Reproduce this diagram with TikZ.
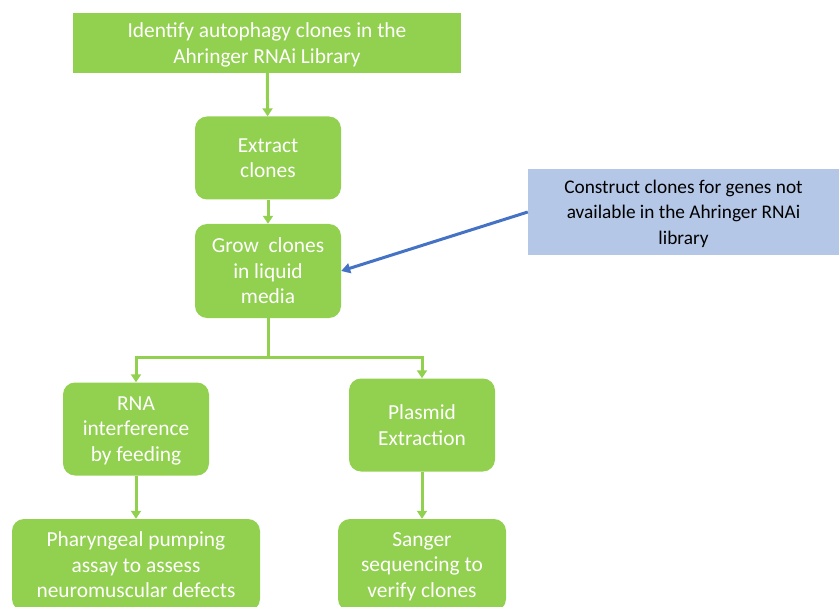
\documentclass[tikz,border=0pt]{standalone}
\usepackage{fontspec}
\setmainfont{Carlito}
\usetikzlibrary{arrows.meta,positioning}
\definecolor{leaf}{HTML}{92D050}
\definecolor{sky}{HTML}{B4C7E7}
\definecolor{ink}{HTML}{4472C4}

\begin{document}
\begin{tikzpicture}
  [x=1pt,y=-1pt,
   every node/.style={align=center,inner sep=0pt,text depth=0pt},
   greenbox/.style={fill=leaf,text=white,rounded corners=12pt,font=\fontsize{21.4}{25.5}\selectfont},
   bluebox/.style={fill=sky,text=black,font=\fontsize{19.3}{25.5}\selectfont},
   flow/.style={draw=leaf,line width=3pt,-{Triangle[width=10pt,length=8pt]}},
   feed/.style={draw=ink,line width=3pt,-{Triangle[width=10pt,length=9pt]}}]
  \useasboundingbox (0,0) rectangle (839,607);

  \node[greenbox,rounded corners=0pt,minimum width=388pt,minimum height=60pt] (identify) at (267,43)
    {Identify autophagy clones in the\\Ahringer RNAi Library};
  \node[greenbox,minimum width=146pt,minimum height=83pt] (extract) at (268,158) {Extract\\clones};
  \node[greenbox,minimum width=146pt,minimum height=94pt] (grow) at (268,271) {Grow~ clones\\in liquid\\media};
  \node[bluebox,minimum width=311pt,minimum height=86pt] (construct) at (683.5,212)
    {Construct clones for genes not\\available in the Ahringer RNAi\\library};
  \node[greenbox,minimum width=146pt,minimum height=93pt] (rnai) at (136,429) {RNA\\interference\\by feeding};
  \node[greenbox,minimum width=146pt,minimum height=93pt] (plasmid) at (422,425) {Plasmid\\Extraction};
  \node[greenbox,minimum width=248pt,minimum height=92pt] (pumping) at (136,565)
    {Pharyngeal pumping\\assay to assess\\neuromuscular defects};
  \node[greenbox,minimum width=168pt,minimum height=92pt] (sanger) at (422,565)
    {Sanger\\sequencing to\\verify clones};

  \coordinate (split) at (268,357);

  \foreach \from/\to in {identify/extract,extract/grow,rnai/pumping,plasmid/sanger}
    \draw[flow] (\from) -- (\to);
  \draw[draw=leaf,line width=3pt] (grow) -- (split);
  \draw[flow] (split) -| (rnai.north);
  \draw[flow] (split) -| (plasmid.north);
  \draw[feed] (construct.west) -- (grow.east);

\end{tikzpicture}
\end{document}
